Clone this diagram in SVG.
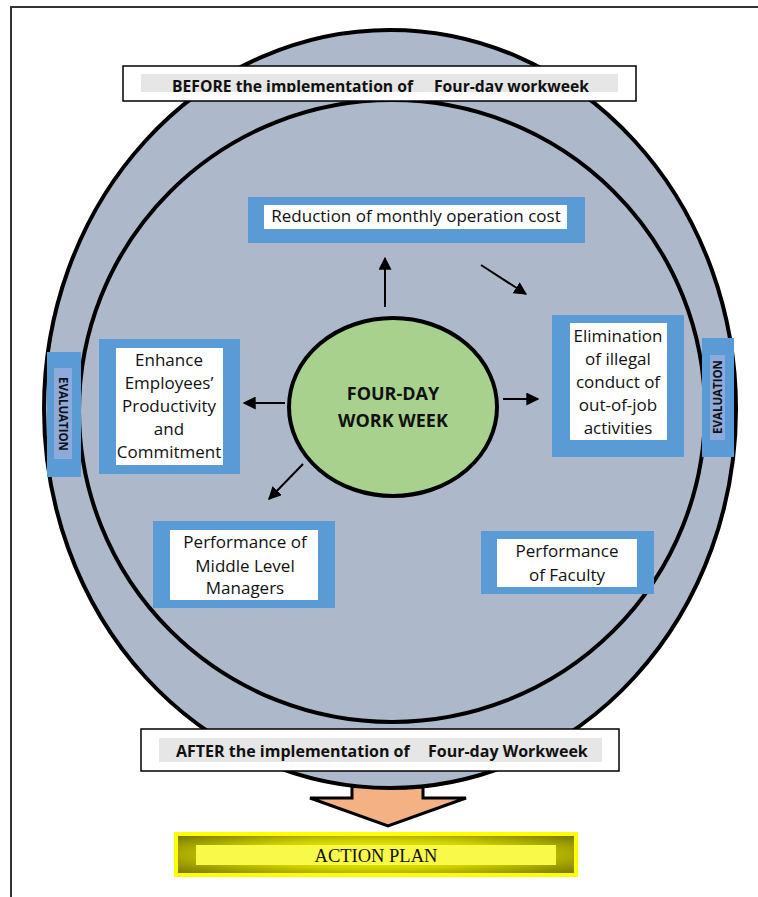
<svg xmlns="http://www.w3.org/2000/svg" width="758" height="897" viewBox="0 0 758 897">
<style>
.t{font-family:"Open Sans","Liberation Sans",sans-serif;font-size:17px;fill:#111;text-anchor:middle}
.b{font-family:"Open Sans","Liberation Sans",sans-serif;font-weight:bold;fill:#111}
.blue{fill:#5b9bd5}
.wh{fill:#fff}
.ev{fill:#5b9bd5}
.evi{fill:#8eaadb}
.evt{font-family:"Open Sans","Liberation Sans",sans-serif;font-weight:bold;font-size:11.5px;fill:#111;text-anchor:middle}
.ring{fill:#adb9ca;stroke:#000;stroke-width:4}
.con{stroke:#000;stroke-width:2;fill:none;marker-end:url(#ah)}
</style>
<defs>
<marker id="ah" viewBox="0 0 10 10" refX="9" refY="5" markerWidth="6.5" markerHeight="6.5" markerUnits="strokeWidth" orient="auto">
<path d="M0,0 L10,5 L0,10 z" fill="#000"/>
</marker>
<radialGradient id="olive" cx="0.5" cy="0.5" r="0.7">
<stop offset="0" stop-color="#ffff20"/>
<stop offset="0.5" stop-color="#d0d000"/>
<stop offset="1" stop-color="#6f6f00"/>
</radialGradient>
<clipPath id="clipBefore"><rect x="141" y="74" width="477" height="18"/></clipPath>
</defs>

<g id="page-border" fill="none" stroke="#333" stroke-width="2">
<path d="M11,897 L11,7 L758,7"/>
</g>

<g id="down-arrow">
<path d="M352,770 L352,798 L310,798 L388,826 L466,798 L423,798 L423,770" fill="#f4b183" stroke="#000" stroke-width="3" stroke-linejoin="miter"/>
</g>

<g id="outer-ring"><ellipse class="ring" cx="390" cy="409" rx="346" ry="379"/></g>
<g id="inner-ring"><ellipse class="ring" cx="392" cy="411" rx="313" ry="311"/></g>

<g id="before-label">
<rect x="123" y="66" width="513" height="35" fill="#fff" stroke="#000" stroke-width="1.5"/>
<rect x="141" y="74" width="477" height="18" fill="#e6e6e6"/>
<g clip-path="url(#clipBefore)">
<text class="b" x="172" y="91.5" font-size="15.7">BEFORE the implementation of</text>
<text class="b" x="434" y="91.5" font-size="15.7">Four-day workweek</text>
</g>
</g>

<g id="eval-left">
<rect class="ev" x="47" y="352" width="34" height="125"/>
<rect class="evi" x="54" y="368" width="18" height="91"/>
<text class="evt" transform="translate(63,414) rotate(90)" y="4">EVALUATION</text>
</g>

<g id="eval-right">
<rect class="ev" x="702" y="338" width="32" height="119"/>
<rect class="evi" x="710" y="355" width="15" height="85"/>
<text class="evt" transform="translate(717.5,397) rotate(-90)" y="4">EVALUATION</text>
</g>

<g id="reduction">
<rect class="blue" x="248" y="197" width="337" height="46"/>
<rect class="wh" x="264" y="205" width="303" height="24"/>
<text class="t" x="416" y="222">Reduction of monthly operation cost</text>
</g>

<g id="elimination">
<rect class="blue" x="552" y="315" width="132" height="142"/>
<rect class="wh" x="570" y="323" width="97" height="117"/>
<text class="t" x="618" y="342">Elimination</text>
<text class="t" x="618" y="365">of illegal</text>
<text class="t" x="618" y="388">conduct of</text>
<text class="t" x="618" y="411">out-of-job</text>
<text class="t" x="618" y="434">activities</text>
</g>

<g id="enhance">
<rect class="blue" x="99" y="339" width="141" height="135"/>
<rect class="wh" x="116" y="348" width="107" height="117"/>
<text class="t" x="169" y="366">Enhance</text>
<text class="t" x="169" y="389">Employees’</text>
<text class="t" x="169" y="412">Productivity</text>
<text class="t" x="169" y="435">and</text>
<text class="t" x="169" y="458">Commitment</text>
</g>

<g id="managers">
<rect class="blue" x="153" y="521" width="182" height="87"/>
<rect class="wh" x="170" y="530" width="148" height="70"/>
<text class="t" x="245" y="548">Performance of</text>
<text class="t" x="245" y="572">Middle Level</text>
<text class="t" x="245" y="594">Managers</text>
</g>

<g id="faculty">
<rect class="blue" x="481" y="531" width="173" height="63"/>
<rect class="wh" x="497" y="539" width="140" height="48"/>
<text class="t" x="567" y="557">Performance</text>
<text class="t" x="567" y="581">of Faculty</text>
</g>

<g id="connectors">
<line class="con" x1="385" y1="307" x2="385" y2="258"/>
<line class="con" x1="481" y1="265" x2="526" y2="294"/>
<line class="con" x1="285" y1="403" x2="244" y2="403"/>
<line class="con" x1="503" y1="399" x2="538" y2="399"/>
<line class="con" x1="303" y1="464" x2="269" y2="499"/>
</g>

<g id="center">
<ellipse cx="393" cy="407" rx="104" ry="89" fill="#a9d18e" stroke="#000" stroke-width="4"/>
<text class="b" x="393" y="400" font-size="18" text-anchor="middle">FOUR-DAY</text>
<text class="b" x="393" y="427" font-size="18" text-anchor="middle">WORK WEEK</text>
</g>

<g id="after-label">
<rect x="141" y="729" width="478" height="42" fill="#fff" stroke="#000" stroke-width="1.5"/>
<rect x="159" y="738" width="443" height="24" fill="#e6e6e6"/>
<text class="b" x="176" y="757" font-size="16">AFTER the implementation of</text>
<text class="b" x="428" y="757" font-size="16">Four-day Workweek</text>
</g>

<g id="action-plan">
<rect x="176" y="834" width="400" height="41" fill="url(#olive)" stroke="#ffff00" stroke-width="4"/>
<rect x="196" y="845" width="360" height="20" fill="#f9f94a"/>
<text x="376" y="862" font-family="'Liberation Serif','Times New Roman',serif" font-size="18.5" text-anchor="middle" fill="#111">ACTION PLAN</text>
</g>
</svg>
